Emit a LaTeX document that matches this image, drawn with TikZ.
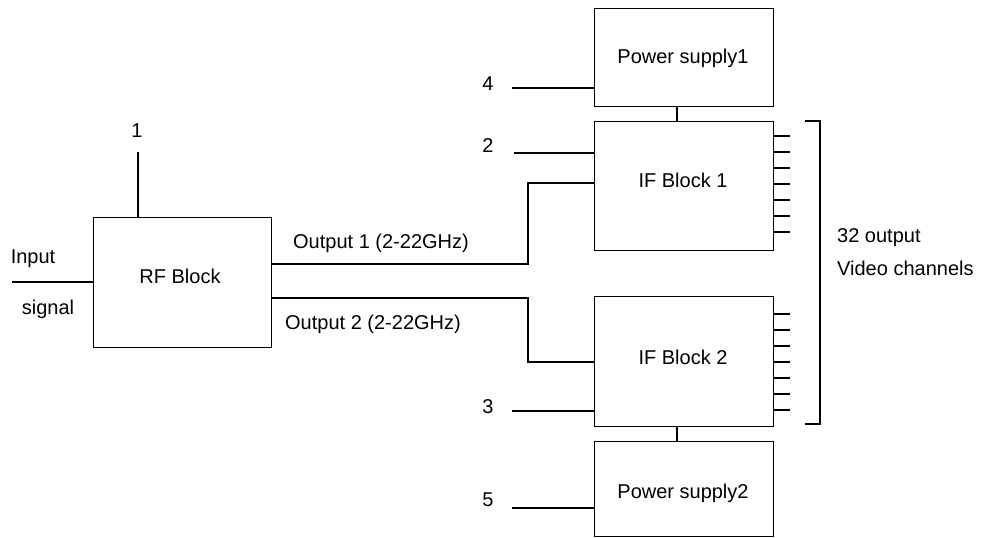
\documentclass[tikz,border=0pt]{standalone}
\usepackage{fontspec}
\setmainfont{Liberation Sans}
\begin{document}
\begin{tikzpicture}[x=1pt,y=-1pt,
  blk/.style={draw,line width=1.3pt,rectangle,inner sep=0pt,anchor=north west},
  wire/.style={line width=1.3pt},
  lbl/.style={inner sep=0pt,font=\fontsize{20}{24}\selectfont}]
\useasboundingbox (0,0) rectangle (989,538);
% blocks
\node[blk,minimum width=178pt,minimum height=130pt] (rf) at (93,217) {};
\node[lbl] at (180,276) {RF Block};
\node[blk,minimum width=179pt,minimum height=98pt] (ps1) at (594,8) {};
\node[lbl] at (683,58) {Power supply1};
\node[blk,minimum width=179pt,minimum height=129pt] (if1) at (594,121) {};
\node[lbl] at (683,180) {IF Block 1};
\node[blk,minimum width=179pt,minimum height=130pt] (if2) at (594,296) {};
\node[lbl] at (683,357) {IF Block 2};
\node[blk,minimum width=179pt,minimum height=95pt] (ps2) at (594,441) {};
\node[lbl] at (683,493) {Power supply2};
% free ends
\coordinate (c1) at (138,152);
\coordinate (cin) at (12,282);
\coordinate (c4) at (512,88);
\coordinate (c2) at (514,153);
\coordinate (c3) at (512,411);
\coordinate (c5) at (512,508);
% wires
\draw[wire] (c1) -- (c1 |- rf.north);
\draw[wire] (cin) -- (cin -| rf.west);
\draw[wire] (rf.east |- 0,264) -- (528,264) -- (528,183) -- (if1.west |- 0,183);
\draw[wire] (rf.east |- 0,298) -- (528,298) -- (528,362) -- (if2.west |- 0,362);
\draw[wire] (c4) -- (c4 -| ps1.west);
\draw[wire] (c2) -- (c2 -| if1.west);
\draw[wire] (c3) -- (c3 -| if2.west);
\draw[wire] (c5) -- (c5 -| ps2.west);
\draw[wire] (677,0 |- ps1.south) -- (677,0 |- if1.north);
\draw[wire] (677,0 |- if2.south) -- (677,0 |- ps2.north);
% output ticks
\foreach \y in {136,152,168,184,200,216,232}
  \draw[wire] (if1.east |- 0,\y) -- ++(16,0);
\foreach \y in {314,330,346,362,378,394,410}
  \draw[wire] (if2.east |- 0,\y) -- ++(16,0);
% bracket
\coordinate (bt) at (805,121);
\coordinate (bb) at (805,424);
\draw[wire] (bt) -- (820,121) -- (820,424) -- (bb);
% labels
\node[lbl] (l1) at (137,131) {1};
\node[lbl] (lin) at (33,259) {Input};
\node[lbl] (lsig) at (48,309) {signal};
\node[lbl] (lo1) at (381,243) {Output 1 (2-22GHz)};
\node[lbl] (lo2) at (373,324) {Output 2 (2-22GHz)};
\node[lbl] (l4) at (488,84) {4};
\node[lbl] (l2) at (488,146) {2};
\node[lbl] (l3) at (488,407) {3};
\node[lbl] (l5) at (488,500) {5};
\node[lbl,anchor=west] (lv1) at (837,238) {32 output};
\node[lbl,anchor=west] (lv2) at (837,268) {Video channels};
\end{tikzpicture}
\end{document}
